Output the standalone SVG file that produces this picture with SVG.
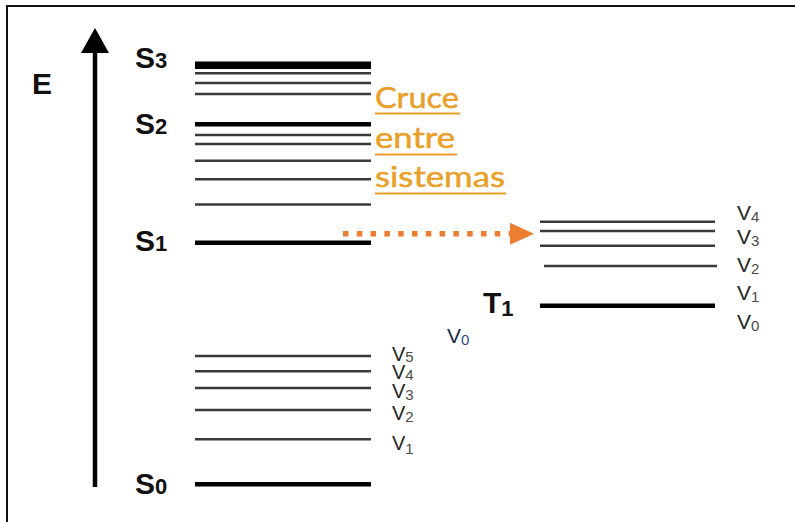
<svg xmlns="http://www.w3.org/2000/svg" width="795" height="522" viewBox="0 0 795 522">
<defs>
<style>
.bg{fill:#fff}
.frame{fill:none;stroke:#111;stroke-width:2}
.thick{stroke:#000;stroke-width:4.5}
.thin{stroke:#3a3a3a;stroke-width:2.6}
.sl{font-family:"Liberation Sans",Arial,sans-serif;font-weight:bold;fill:#111}
.v{font-family:"Liberation Sans",Arial,sans-serif;fill:#262626}
.vs{font-family:"Liberation Sans",Arial,sans-serif;fill:#4a4a4a}
.isc{font-family:Lato,"Open Sans",sans-serif;fill:#E9A02A;stroke:#E9A02A;stroke-width:0.5}
.ul{stroke:#E9A02A;stroke-width:2}
.conn{stroke:#ED7D31;stroke-width:5.5;stroke-dasharray:5.5 8.3;fill:none}
</style>
<marker id="ah" markerUnits="userSpaceOnUse" markerWidth="26" markerHeight="24" refX="24" refY="11" orient="auto">
<path d="M0,0 L24,11 L0,22 Z" fill="#ED7D31"/>
</marker>
</defs>
<rect class="bg" x="0" y="0" width="795" height="522"/>
<path class="frame" d="M7,530 L7,6 L800,6"/>

<g id="axis">
<line x1="95" y1="487" x2="95" y2="50" stroke="#000" stroke-width="4.5"/>
<path d="M81,53 L95,28 L109,53 Z" fill="#000"/>
<text class="sl" x="32" y="94" font-size="30">E</text>
</g>

<g id="S3">
<rect x="195" y="61.5" width="176" height="7.5" fill="#000"/>
<line class="thin" x1="195" y1="73.3" x2="371" y2="73.3"/>
<line class="thin" x1="195" y1="83" x2="371" y2="83"/>
<line class="thin" x1="195" y1="94" x2="371" y2="94"/>
<text class="sl" x="135" y="68" font-size="30">S<tspan font-size="22">3</tspan></text>
</g>

<g id="S2">
<line class="thick" x1="195" y1="124.3" x2="371" y2="124.3"/>
<line class="thin" x1="195" y1="135" x2="371" y2="135"/>
<line class="thin" x1="195" y1="144" x2="371" y2="144"/>
<line class="thin" x1="195" y1="160.7" x2="371" y2="160.7"/>
<line class="thin" x1="195" y1="179.2" x2="371" y2="179.2"/>
<line class="thin" x1="195" y1="204.5" x2="371" y2="204.5"/>
<text class="sl" x="135" y="134" font-size="30">S<tspan font-size="22">2</tspan></text>
</g>

<g id="S1">
<line class="thick" x1="195" y1="242.7" x2="371" y2="242.7"/>
<text class="sl" x="135" y="251" font-size="30">S<tspan font-size="22">1</tspan></text>
</g>

<g id="S0">
<line class="thin" x1="195" y1="356" x2="371" y2="356"/>
<line class="thin" x1="195" y1="371.3" x2="371" y2="371.3"/>
<line class="thin" x1="195" y1="388" x2="371" y2="388"/>
<line class="thin" x1="195" y1="410" x2="371" y2="410"/>
<line class="thin" x1="195" y1="439.3" x2="371" y2="439.3"/>
<line class="thick" x1="195" y1="484.3" x2="371" y2="484.3"/>
<text class="sl" x="135" y="494" font-size="30">S<tspan font-size="22">0</tspan></text>
</g>

<g id="S0-vib-labels">
<text class="v" x="392" y="361" font-size="20">V<tspan class="vs" font-size="15" dy="1">5</tspan></text>
<text class="v" x="392" y="378.5" font-size="20">V<tspan class="vs" font-size="15" dy="1">4</tspan></text>
<text class="v" x="392" y="398" font-size="20">V<tspan class="vs" font-size="15" dy="2">3</tspan></text>
<text class="v" x="392" y="420" font-size="20">V<tspan class="vs" font-size="15" dy="2">2</tspan></text>
<text class="v" x="392" y="450" font-size="20">V<tspan class="vs" font-size="15" dy="4">1</tspan></text>
</g>

<g id="T1">
<line class="thin" x1="540" y1="221.7" x2="715" y2="221.7"/>
<line class="thin" x1="540" y1="231" x2="715" y2="231"/>
<line class="thin" x1="540" y1="245.7" x2="715" y2="245.7"/>
<line class="thin" x1="544" y1="266" x2="717" y2="266"/>
<line class="thick" x1="540" y1="305.7" x2="715" y2="305.7"/>
<text class="sl" x="483" y="313" font-size="30">T<tspan font-size="22" dy="3">1</tspan></text>
</g>

<g id="T1-vib-labels">
<text class="v" x="737" y="220" font-size="21">V<tspan class="vs" font-size="15" dy="2">4</tspan></text>
<text class="v" x="737" y="244" font-size="21">V<tspan class="vs" font-size="15" dy="2">3</tspan></text>
<text class="v" x="737" y="272" font-size="21">V<tspan class="vs" font-size="15" dy="2">2</tspan></text>
<text class="v" x="737" y="300" font-size="21">V<tspan class="vs" font-size="15" dy="2">1</tspan></text>
<text class="v" x="737" y="329" font-size="21">V<tspan class="vs" font-size="15" dy="2">0</tspan></text>
</g>

<g id="V0-mid">
<text x="447" y="343" font-family="Liberation Sans,Arial,sans-serif" font-size="21" fill="#1d2b45">V<tspan font-size="15" dy="2" fill="#2b4a86">0</tspan></text>
</g>

<g id="isc-label">
<text class="isc" x="375" y="108" font-size="29" textLength="84" lengthAdjust="spacingAndGlyphs">Cruce</text>
<line class="ul" x1="375" y1="113.5" x2="460" y2="113.5"/>
<text class="isc" x="375" y="148" font-size="29" textLength="80" lengthAdjust="spacingAndGlyphs">entre</text>
<line class="ul" x1="375" y1="154.5" x2="457" y2="154.5"/>
<text class="isc" x="375" y="187" font-size="29" textLength="130" lengthAdjust="spacingAndGlyphs">sistemas</text>
<line class="ul" x1="375" y1="193.5" x2="506" y2="193.5"/>
</g>

<g id="connectors">
<line class="conn" x1="343" y1="233.8" x2="534" y2="233.8" marker-end="url(#ah)"/>
</g>
</svg>
